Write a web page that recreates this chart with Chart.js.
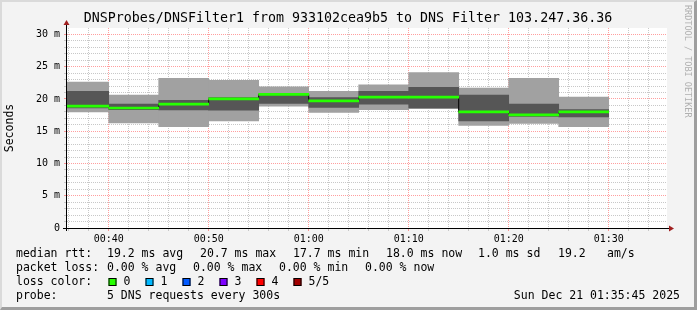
<!DOCTYPE html>
<html>
<head>
<meta charset="utf-8">
<script src="https://cdn.jsdelivr.net/npm/chart.js@4.4.1/dist/chart.umd.min.js"></script>
<style>
  html, body { margin: 0; padding: 0; background: #f3f3f3; }
  #frame { position: relative; width: 697px; height: 310px; box-sizing: border-box;
    border-style: solid; border-width: 2px 3px 3px 2px;
    border-color: #dadada #9e9e9e #9e9e9e #dadada; background: #f3f3f3; }
  #smoke { position: absolute; left: -2px; top: -2px; }
</style>
</head>
<body>
<div id="frame"><canvas id="smoke" width="697" height="310"></canvas></div>
<script>
// Smokeping style graph, 5 pings per 300s step

// end of each 5 minute step (hh:mm)
var endTimes = ['00:40', '00:45', '00:50', '00:55', '01:00', '01:05', '01:10', '01:15', '01:20', '01:25', '01:30'];
// the 5 sorted pings of each step, in ms
var maxRtt    = [22.6, 20.6, 23.2, 22.9, 21.9, 21.2, 22.2, 24.1, 21.7, 23.2, 20.3];
var upperRtt  = [21.2, 19.2, 19.8, 20.2, 20.8, 20.2, 21.2, 21.8, 20.6, 19.2, 18.35];
var medianRtt = [18.9, 18.6, 19.2, 20.0, 20.7, 19.7, 20.3, 20.3, 18.0, 17.55, 18.0];
var lowerRtt  = [18.6, 18.35, 18.3, 18.25, 19.3, 18.7, 19.2, 18.6, 16.6, 17.3, 17.2];
var minRtt    = [18.0, 16.3, 15.7, 16.6, 18.9, 17.9, 18.35, 18.5, 15.9, 16.2, 15.7];

var lossLabels = ['0', '1', '2', '3', '4', '5/5'];
var lossColors = ['#26ff00', '#00b8ff', '#0059ff', '#7e00ff', '#ff0000', '#a10000'];

var medianStats = ['19.2 ms avg', '20.7 ms max', '17.7 ms min', '18.0 ms now', '1.0 ms sd', '19.2', 'am/s'];
var lossStats = ['0.00 % avg', '0.00 % max', '0.00 % min', '0.00 % now'];

var xMin = 35.83, xMax = 95.83; // minutes after midnight
var stepMinutes = 5;
var plotWidth = 600;
var mono = "'DejaVu Sans Mono', monospace";
var majorGrid = 'rgba(255, 0, 0, 0.38)';
var minorGrid = '#c8c8c8';

function toMinutes(t) {
    var p = t.split(':');
    return Number(p[0]) * 60 + Number(p[1]);
}
function pad(n) { return (n < 10 ? '0' : '') + n; }
function centre(i) { return toMinutes(endTimes[i]) - stepMinutes / 2; } // step covers the 5 min before its time

var lightSmoke = endTimes.map(function(t, i) { return { x: centre(i), y: [minRtt[i], maxRtt[i]] }; });
var darkSmoke = endTimes.map(function(t, i) { return { x: centre(i), y: [lowerRtt[i], upperRtt[i]] }; });
var medianStep = endTimes.map(function(t, i) { return { x: centre(i), y: medianRtt[i] }; });
var medianMark = endTimes.map(function(t, i) { return { x: centre(i), y: [medianRtt[i] - 0.16, medianRtt[i] + 0.16] }; });

var stepPx = stepMinutes * plotWidth / (xMax - xMin);

// white plot area, axes arrows, title and the rrdtool legend
var rrdDecor = {
    id: 'rrdDecor',
    beforeDraw: function(chart) {
        var a = chart.chartArea, c = chart.ctx;
        c.save();
        c.fillStyle = '#ffffff';
        c.fillRect(a.left, a.top, a.right - a.left, a.bottom - a.top);
        c.restore();
    },
    afterDraw: function(chart) {
        var a = chart.chartArea, c = chart.ctx;
        var ax = a.left - 0.5, ay = a.bottom + 0.5;
        c.save();
        c.strokeStyle = '#000';
        c.lineWidth = 1;
        c.beginPath();
        c.moveTo(a.left - 4, ay); c.lineTo(a.right + 3, ay);
        c.moveTo(ax, a.bottom + 3); c.lineTo(ax, a.top - 4);
        c.stroke();
        c.fillStyle = '#a02020';
        c.beginPath();
        c.moveTo(a.right + 2, ay - 3); c.lineTo(a.right + 7, ay); c.lineTo(a.right + 2, ay + 3);
        c.fill();
        c.beginPath();
        c.moveTo(ax - 3, a.top - 3); c.lineTo(ax, a.top - 8); c.lineTo(ax + 3, a.top - 3);
        c.fill();

        // title
        c.fillStyle = '#000';
        c.textBaseline = 'middle';
        c.textAlign = 'center';
        c.font = '13.3px ' + mono;
        c.fillText('DNSProbes/DNSFilter1 from 933102cea9b5 to DNS Filter 103.247.36.36', 348, 19);

        // legend
        c.textAlign = 'left';
        c.font = '11.5px ' + mono;
        c.fillText('median rtt:', 16, 254);
        var mx = [107, 200, 293, 386, 478, 558, 607];
        medianStats.forEach(function(s, i) { c.fillText(s, mx[i], 254); });
        c.fillText('packet loss:', 16, 268);
        var lx = [107, 193, 279, 365];
        lossStats.forEach(function(s, i) { c.fillText(s, lx[i], 268); });
        c.fillText('loss color:', 16, 282);
        var bx = [108.5, 145.5, 182.5, 219.5, 256.5, 293.5];
        lossLabels.forEach(function(s, i) {
            c.fillStyle = lossColors[i];
            c.fillRect(bx[i], 278, 8, 8);
            c.strokeStyle = '#000';
            c.strokeRect(bx[i] + 0.5, 278.5, 7, 7);
            c.fillStyle = '#000';
            c.fillText(s, bx[i] + 15, 282);
        });
        c.fillText('probe:', 16, 296);
        c.fillText('5 DNS requests every 300s', 107, 296);
        c.textAlign = 'right';
        c.fillText('Sun Dec 21 01:35:45 2025', 680, 296);

        // watermark
        c.fillStyle = '#b0b0b0';
        c.textAlign = 'left';
        c.font = '8.5px ' + mono;
        c.translate(687, 5);
        c.rotate(Math.PI / 2);
        c.fillText('RRDTOOL / TOBI OETIKER', 0, 0);
        c.restore();
    }
};

Chart.defaults.font.family = mono;
Chart.defaults.color = '#000';

var smokeChart = new Chart(document.getElementById('smoke').getContext('2d'), {
    type: 'bar',
    data: {
        datasets: [
            { data: lightSmoke, backgroundColor: '#a1a1a1', grouped: false, order: 3,
              barThickness: stepPx, borderWidth: 0 },
            { data: darkSmoke, backgroundColor: '#565656', grouped: false, order: 2,
              barThickness: stepPx, borderWidth: 0 },
            { type: 'line', data: medianStep, stepped: 'middle', borderColor: '#000',
              borderWidth: 1, pointRadius: 0, fill: false, order: 1 },
            { data: medianMark, backgroundColor: lossColors[0], grouped: false, order: 0,
              barThickness: stepPx, borderWidth: 0 }
        ]
    },
    options: {
        responsive: false,
        animation: false,
        layout: { padding: { left: 0, top: 28, right: 30, bottom: 62 } },
        plugins: { legend: { display: false }, tooltip: { enabled: false }, title: { display: false } },
        scales: {
            x: {
                type: 'linear', min: xMin, max: xMax, offset: false, z: 1,
                afterBuildTicks: function(scale) {
                    var t = [];
                    for (var m = 36; m < xMax; m += 2) t.push({ value: m });
                    scale.ticks = t;
                },
                afterFit: function(scale) { scale.height = 20; },
                grid: {
                    offset: false, tickLength: 3, lineWidth: 1,
                    color: function(ctx) { return ctx.tick && ctx.tick.value % 10 === 0 ? majorGrid : minorGrid; }
                },
                border: { display: false, dash: [1, 1] },
                ticks: {
                    autoSkip: false, maxRotation: 0, padding: 2, font: { size: 10 },
                    callback: function(v) { return v % 10 === 0 ? pad(Math.floor(v / 60)) + ':' + pad(v % 60) : ''; }
                }
            },
            y: {
                min: 0, max: 31, z: 1,
                afterBuildTicks: function(scale) {
                    var t = [];
                    for (var v = 0; v <= 30; v++) t.push({ value: v });
                    scale.ticks = t;
                },
                afterFit: function(scale) { scale.width = 67; },
                grid: {
                    tickLength: 3, lineWidth: 1,
                    color: function(ctx) { return ctx.tick && ctx.tick.value % 5 === 0 ? majorGrid : minorGrid; }
                },
                border: { display: false, dash: [1, 1] },
                title: { display: true, text: 'Seconds', font: { size: 11.5 }, padding: { top: 3, bottom: 0 } },
                ticks: {
                    autoSkip: false, padding: 4, font: { size: 10 },
                    callback: function(v) { return v % 5 === 0 ? (v === 0 ? '0' : v + ' m') : ''; }
                }
            }
        }
    },
    plugins: [rrdDecor]
});
</script>
</body>
</html>
